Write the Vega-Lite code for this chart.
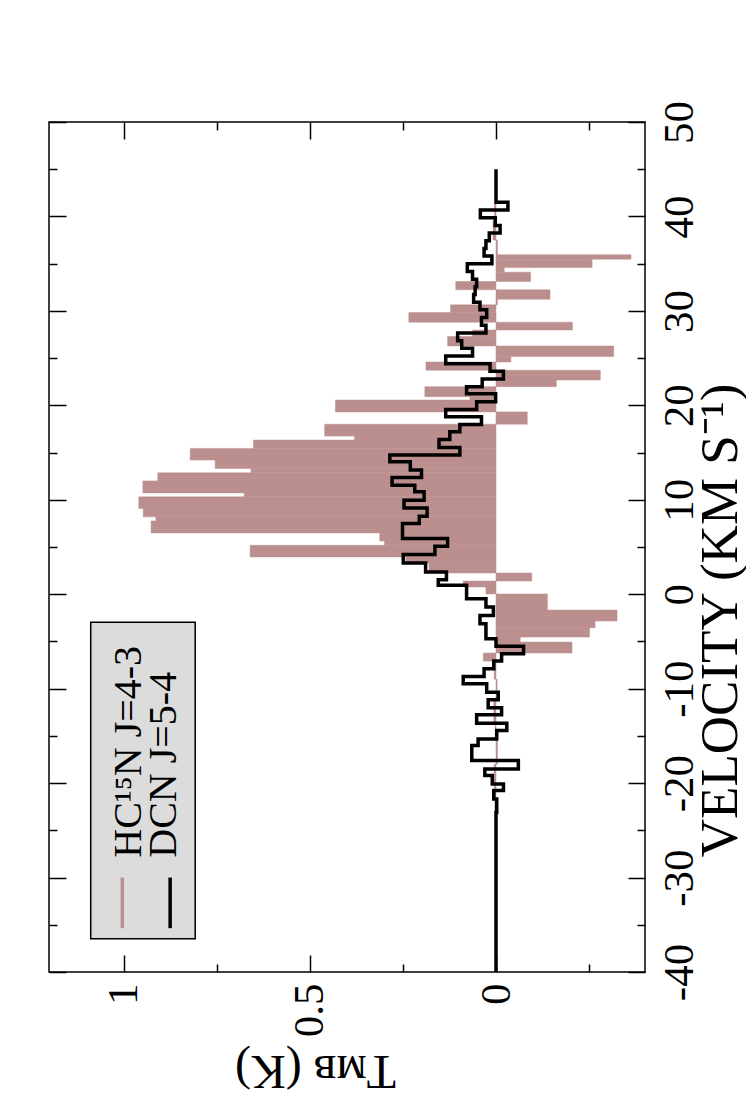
{
  "$schema": "https://vega.github.io/schema/vega-lite/v6.json",
  "width": 596,
  "height": 850,
  "autosize": "none",
  "padding": {"left": 49, "top": 122, "right": 101, "bottom": 128},
  "background": "white",
  "config": {
    "view": {"stroke": "black", "strokeWidth": 1.5},
    "font": "Liberation Serif",
    "axis": {"grid": false, "domain": false, "tickColor": "black", "tickWidth": 1.5, "labelColor": "black", "titleColor": "black", "labelFont": "Liberation Serif", "titleFont": "Liberation Serif", "titleFontWeight": "normal", "labelFlush": false, "labelOverlap": false}
  },
  "datasets": {
    "hc": [
      {"v0": 41.4, "v1": 39.5, "T": 0.004},
      {"v0": 39.5, "v1": 37.5, "T": 0.008},
      {"v0": 37.5, "v1": 35.94, "T": -0.004},
      {"v0": 35.94, "v1": 35.48, "T": -0.3625},
      {"v0": 35.48, "v1": 34.59, "T": -0.258},
      {"v0": 34.59, "v1": 34.1, "T": -0.022},
      {"v0": 34.1, "v1": 33.11, "T": -0.093},
      {"v0": 33.11, "v1": 32.23, "T": 0.108},
      {"v0": 32.23, "v1": 31.24, "T": -0.145},
      {"v0": 31.24, "v1": 30.64, "T": -0.004},
      {"v0": 30.64, "v1": 29.82, "T": 0.122},
      {"v0": 29.82, "v1": 28.8, "T": 0.234},
      {"v0": 28.8, "v1": 27.98, "T": -0.205},
      {"v0": 27.98, "v1": 27.28, "T": 0.063},
      {"v0": 27.28, "v1": 26.29, "T": 0.13},
      {"v0": 26.29, "v1": 25.16, "T": -0.316},
      {"v0": 25.16, "v1": 24.59, "T": -0.04},
      {"v0": 24.59, "v1": 23.71, "T": 0.188},
      {"v0": 23.71, "v1": 22.68, "T": -0.28},
      {"v0": 22.68, "v1": 21.98, "T": -0.162},
      {"v0": 21.98, "v1": 20.92, "T": 0.191},
      {"v0": 20.92, "v1": 20.56, "T": 0.07},
      {"v0": 20.56, "v1": 19.3, "T": 0.431},
      {"v0": 19.3, "v1": 18.0, "T": -0.084},
      {"v0": 18.0, "v1": 16.74, "T": 0.46},
      {"v0": 16.74, "v1": 16.32, "T": 0.38},
      {"v0": 16.32, "v1": 15.44, "T": 0.651},
      {"v0": 15.44, "v1": 14.2, "T": 0.821},
      {"v0": 14.2, "v1": 13.32, "T": 0.754},
      {"v0": 13.32, "v1": 12.85, "T": 0.658},
      {"v0": 12.85, "v1": 12.0, "T": 0.908},
      {"v0": 12.0, "v1": 10.73, "T": 0.948},
      {"v0": 10.73, "v1": 10.31, "T": 0.676},
      {"v0": 10.31, "v1": 9.08, "T": 0.959},
      {"v0": 9.08, "v1": 8.19, "T": 0.947},
      {"v0": 8.19, "v1": 7.76, "T": 0.913},
      {"v0": 7.76, "v1": 6.49, "T": 0.926},
      {"v0": 6.49, "v1": 5.64, "T": 0.312},
      {"v0": 5.64, "v1": 5.18, "T": 0.299},
      {"v0": 5.18, "v1": 3.95, "T": 0.66},
      {"v0": 3.95, "v1": 3.25, "T": 0.242},
      {"v0": 3.25, "v1": 2.25, "T": 0.18},
      {"v0": 2.25, "v1": 1.4, "T": -0.096},
      {"v0": 1.4, "v1": 0.77, "T": 0.088},
      {"v0": 0.77, "v1": 0.03, "T": 0.027},
      {"v0": 0.03, "v1": -1.68, "T": -0.138},
      {"v0": -1.68, "v1": -2.84, "T": -0.325},
      {"v0": -2.84, "v1": -3.55, "T": -0.266},
      {"v0": -3.55, "v1": -4.54, "T": -0.251},
      {"v0": -4.54, "v1": -5.07, "T": -0.065},
      {"v0": -5.07, "v1": -6.23, "T": -0.204},
      {"v0": -6.23, "v1": -7.08, "T": 0.034},
      {"v0": -7.08, "v1": -9.0, "T": 0.005},
      {"v0": -9.0, "v1": -11.0, "T": -0.003},
      {"v0": -11.0, "v1": -13.5, "T": 0.006},
      {"v0": -13.5, "v1": -15.5, "T": 0.002},
      {"v0": -15.5, "v1": -18.0, "T": -0.004},
      {"v0": -18.0, "v1": -20.5, "T": 0.005},
      {"v0": -20.5, "v1": -22.9, "T": 0.003}
    ],
    "dcn": [
      {"v": -40, "T": 0},
      {"v": -23.1, "T": -0.002},
      {"v": -21.68, "T": 0.006},
      {"v": -20.79, "T": -0.02},
      {"v": -20.09, "T": 0.01},
      {"v": -19.2, "T": 0.03},
      {"v": -18.5, "T": -0.06},
      {"v": -17.61, "T": 0.065},
      {"v": -16.02, "T": 0.048},
      {"v": -15.32, "T": -0.002},
      {"v": -14.43, "T": -0.029},
      {"v": -13.65, "T": 0.052},
      {"v": -12.77, "T": -0.015},
      {"v": -12.03, "T": 0.021},
      {"v": -11.18, "T": -0.006},
      {"v": -10.37, "T": 0.025},
      {"v": -9.48, "T": 0.088},
      {"v": -8.71, "T": 0.032},
      {"v": -7.89, "T": 0.006},
      {"v": -7.08, "T": -0.015},
      {"v": -6.3, "T": -0.074},
      {"v": -5.52, "T": 0.0},
      {"v": -4.71, "T": 0.027},
      {"v": -3.12, "T": 0.043},
      {"v": -2.24, "T": 0.007},
      {"v": -1.35, "T": 0.027},
      {"v": -0.47, "T": 0.079},
      {"v": 0.94, "T": 0.155},
      {"v": 1.54, "T": 0.133},
      {"v": 2.36, "T": 0.189},
      {"v": 3.31, "T": 0.249},
      {"v": 4.2, "T": 0.164},
      {"v": 5.08, "T": 0.13},
      {"v": 5.89, "T": 0.251},
      {"v": 7.48, "T": 0.206},
      {"v": 8.26, "T": 0.185},
      {"v": 9.14, "T": 0.247},
      {"v": 9.96, "T": 0.193},
      {"v": 10.84, "T": 0.218},
      {"v": 11.55, "T": 0.279},
      {"v": 12.36, "T": 0.2},
      {"v": 13.14, "T": 0.23},
      {"v": 14.02, "T": 0.285},
      {"v": 14.73, "T": 0.097},
      {"v": 15.54, "T": 0.153},
      {"v": 16.39, "T": 0.124},
      {"v": 17.2, "T": 0.097},
      {"v": 17.98, "T": 0.039},
      {"v": 18.79, "T": 0.135},
      {"v": 19.57, "T": 0.052},
      {"v": 20.39, "T": 0.001},
      {"v": 21.22, "T": 0.079},
      {"v": 21.98, "T": 0.037},
      {"v": 22.79, "T": -0.02},
      {"v": 23.6, "T": 0.016},
      {"v": 24.41, "T": 0.135},
      {"v": 25.23, "T": 0.063},
      {"v": 26.04, "T": 0.092},
      {"v": 26.85, "T": 0.103},
      {"v": 27.67, "T": 0.027},
      {"v": 28.48, "T": 0.039},
      {"v": 29.29, "T": 0.025},
      {"v": 30.11, "T": 0.043},
      {"v": 30.92, "T": 0.06},
      {"v": 31.73, "T": 0.056},
      {"v": 32.55, "T": 0.052},
      {"v": 33.36, "T": 0.063},
      {"v": 34.17, "T": 0.077},
      {"v": 34.98, "T": 0.011},
      {"v": 35.8, "T": 0.032},
      {"v": 36.61, "T": 0.027},
      {"v": 37.42, "T": 0.018},
      {"v": 38.24, "T": -0.011},
      {"v": 39.05, "T": 0.002},
      {"v": 39.86, "T": 0.042},
      {"v": 40.68, "T": -0.032},
      {"v": 41.49, "T": 0},
      {"v": 45, "T": 0}
    ]
  },
  "resolve": {"axis": {"x": "independent", "y": "independent"}},
  "layer": [
    {
      "data": {"name": "hc"},
      "mark": {"type": "rect", "color": "#bc8f8f", "stroke": "#bc8f8f", "strokeWidth": 0.5},
      "encoding": {
        "x": {"field": "T", "type": "quantitative", "scale": {"domain": [-0.4, 1.2], "reverse": true, "nice": false, "zero": false},
          "axis": {"orient": "bottom", "values": [0, 0.5, 1], "tickSize": -17, "labelAngle": 270, "labelAlign": "right", "labelBaseline": "middle", "labelPadding": 28, "labelFontSize": 43, "labelExpr": "'' + datum.value",
            "title": "Tᴍʙ (K)", "titleAngle": 180, "titleFontSize": 48, "titleX": 266, "titleY": 83, "titleAlign": "center", "titleBaseline": "alphabetic"}},
        "x2": {"datum": 0},
        "y": {"field": "v0", "type": "quantitative", "scale": {"domain": [-40, 50], "nice": false, "zero": false},
          "axis": {"orient": "right", "values": [-40, -30, -20, -10, 0, 10, 20, 30, 40, 50], "tickSize": -17, "labelAngle": 270, "labelAlign": "center", "labelBaseline": "top", "labelPadding": 30, "labelFontSize": 43, "labelExpr": "datum.value < 0 ? '-' + abs(datum.value) : '' + datum.value",
            "title": "VELOCITY (KM S⁻¹)", "titleAngle": 270, "titleFontSize": 53, "titleX": 91, "titleY": 498, "titleAlign": "center", "titleBaseline": "alphabetic"}},
        "y2": {"field": "v1"}
      }
    },
    {
      "data": {"name": "dcn"},
      "mark": {"type": "line", "color": "black", "strokeWidth": 3.5, "interpolate": "step-before", "strokeJoin": "miter"},
      "encoding": {
        "x": {"field": "T", "type": "quantitative", "scale": {"domain": [-0.4, 1.2], "reverse": true, "nice": false, "zero": false},
          "axis": {"orient": "top", "values": [0, 0.5, 1], "tickSize": -17, "labels": false, "title": null}},
        "y": {"field": "v", "type": "quantitative", "scale": {"domain": [-40, 50], "nice": false, "zero": false},
          "axis": {"orient": "left", "values": [-40, -30, -20, -10, 0, 10, 20, 30, 40, 50], "tickSize": -17, "labels": false, "title": null}},
        "order": {"field": "v", "type": "quantitative"}
      }
    },
    {
      "data": {"values": [{}]},
      "mark": {"type": "rect", "fill": "#dcdcdc", "stroke": "black", "strokeWidth": 1.5},
      "encoding": {
        "x": {"datum": 1.088, "type": "quantitative", "axis": {"orient": "bottom", "values": [-0.25, 0.25, 0.75], "tickSize": -8, "labels": false, "title": null}},
        "x2": {"datum": 0.8075},
        "y": {"datum": -2.98, "type": "quantitative", "axis": {"orient": "right", "values": [-35, -25, -15, -5, 5, 15, 25, 35, 45], "tickSize": -8, "labels": false, "title": null}},
        "y2": {"datum": -36.49}
      }
    },
    {
      "data": {"values": [{}]},
      "mark": {"type": "text", "text": "HC¹⁵N J=4-3", "angle": 270, "align": "left", "baseline": "alphabetic", "fontSize": 40, "font": "Liberation Serif", "color": "black"},
      "encoding": {
        "x": {"datum": 0.9537, "type": "quantitative", "axis": {"orient": "top", "values": [-0.25, 0.25, 0.75], "tickSize": -8, "labels": false, "title": null}},
        "y": {"datum": -27.9, "type": "quantitative", "axis": {"orient": "left", "values": [-35, -25, -15, -5, 5, 15, 25, 35, 45], "tickSize": -8, "labels": false, "title": null}}
      }
    },
    {
      "data": {"values": [{}]},
      "mark": {"type": "text", "text": "DCN J=5-4", "angle": 270, "align": "left", "baseline": "alphabetic", "fontSize": 40, "font": "Liberation Serif", "color": "black"},
      "encoding": {
        "x": {"datum": 0.8587, "type": "quantitative", "axis": null},
        "y": {"datum": -27.9, "type": "quantitative", "axis": null}
      }
    },
    {
      "data": {"values": [{}]},
      "mark": {"type": "rule", "color": "#bc8f8f", "strokeWidth": 3.5},
      "encoding": {
        "x": {"datum": 1.0032, "type": "quantitative", "axis": null},
        "y": {"datum": -30.0, "type": "quantitative", "axis": null},
        "y2": {"datum": -35.36}
      }
    },
    {
      "data": {"values": [{}]},
      "mark": {"type": "rule", "color": "black", "strokeWidth": 3.5},
      "encoding": {
        "x": {"datum": 0.8748, "type": "quantitative", "axis": null},
        "y": {"datum": -30.0, "type": "quantitative", "axis": null},
        "y2": {"datum": -35.36}
      }
    }
  ]
}
